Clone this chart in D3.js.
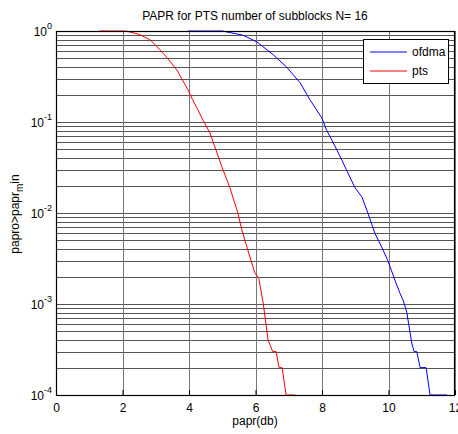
<!DOCTYPE html>
<html><head><meta charset="utf-8">
<script src="https://cdn.jsdelivr.net/npm/d3@7"></script>
<style>body{margin:0;background:#fff}text{font-family:"Liberation Sans",Arial,sans-serif;fill:#000}</style>
</head><body><svg id="c" width="458" height="434"></svg>
<script>
const title = "PAPR for PTS number of subblocks N= 16";
const xLabel = "papr(db)";
const seriesNames = ["ofdma", "pts"];
const seriesColors = ["#0000ff", "#ff0000"];
const xTicks = [0,2,4,6,8,10,12];
const yExps = [0,-1,-2,-3,-4];
const ofdmaX = [3.97,5.0,5.62,6.04,6.53,6.94,7.34,7.64,8.0,8.14,8.34,8.6,8.78,8.99,9.2,9.38,9.59,9.8,9.98,10.2,10.35,10.44,10.55,10.7,10.77,10.85,10.95,11.13,11.25,11.76];
const ofdmaY = [1,1,0.9,0.76,0.55,0.4,0.27,0.175,0.11,0.081,0.059,0.038,0.0275,0.019,0.015,0.01,0.006,0.0042,0.003,0.0018,0.0013,0.0011,0.00081,0.00037,0.0003,0.0003,0.0002,0.0002,0.0001,0.0001];
const ptsX = [1.3,2.1,2.5,2.83,3.13,3.4,3.64,3.97,4.1,4.25,4.42,4.63,4.99,5.23,5.47,5.59,5.77,5.98,6.1,6.23,6.38,6.52,6.62,6.71,6.8,6.92,7.19];
const ptsY = [1,1,0.92,0.8,0.62,0.48,0.37,0.225,0.178,0.14,0.105,0.076,0.032,0.019,0.01,0.0065,0.0039,0.0022,0.0019,0.00103,0.0004,0.0003,0.0003,0.0002,0.0002,0.0001,0.0001];

const L=56,R=455,T=31,B=395;
const svg=d3.select("#c");
const x=d3.scaleLinear().domain([0,12]).range([L,R]);
const y=d3.scaleLog().domain([1e-4,1]).range([B,T]);

// grid
const g=svg.append("g");
const minorVals=[];
for(let e=-4;e<0;e++){for(let k=1;k<10;k++){minorVals.push(k*Math.pow(10,e));}}
minorVals.push(1);
g.selectAll("line.h").data(minorVals).enter().append("line")
 .attr("x1",L).attr("x2",R).attr("y1",d=>Math.round(y(d))+0.5).attr("y2",d=>Math.round(y(d))+0.5)
 .attr("stroke","#555").attr("stroke-width",1);
g.selectAll("line.v").data(xTicks).enter().append("line")
 .attr("y1",T).attr("y2",B).attr("x1",d=>Math.round(x(d))+0.5).attr("x2",d=>Math.round(x(d))+0.5)
 .attr("stroke","#777").attr("stroke-width",1);

// axes via d3
const xAxis=svg.append("g").attr("transform",`translate(0,${B})`)
 .call(d3.axisBottom(x).tickValues(xTicks).tickSize(-5).tickPadding(8).tickFormat(d3.format("d")));
xAxis.select(".domain").remove();
xAxis.selectAll("text").attr("font-size",12).attr("font-family","Liberation Sans, Arial, sans-serif");
xAxis.selectAll("line").attr("stroke","#000");

// lines
const line=d3.line().x(d=>x(d[0])).y(d=>y(d[1]));
const series=[d3.zip(ofdmaX,ofdmaY), d3.zip(ptsX,ptsY)];
series.forEach((s,i)=>{
 svg.append("path").attr("d",line(s)).attr("fill","none").attr("stroke",seriesColors[i]).attr("stroke-width",1);
});

// box
svg.append("rect").attr("x",L+0.5).attr("y",T+0.5).attr("width",R-L-1).attr("height",B-T).attr("fill","none").attr("stroke","#000").attr("stroke-width",1.2);

// y tick labels
yExps.forEach(e=>{
 const t=svg.append("text").attr("x",52).attr("y",y(Math.pow(10,e))+5).attr("text-anchor","end").attr("font-size",12);
 t.append("tspan").text("10");
 t.append("tspan").attr("dy",-7).attr("font-size",9).text(String(e));
});

// title & labels
svg.append("text").attr("x",255).attr("y",20).attr("text-anchor","middle").attr("font-size",12).text(title);
svg.append("text").attr("x",255).attr("y",425).attr("text-anchor","middle").attr("font-size",12).text(xLabel);
const yl=svg.append("text").attr("transform","translate(19,214) rotate(-90)").attr("text-anchor","middle").attr("font-size",12);
yl.append("tspan").text("papro>papr");
yl.append("tspan").attr("dy",4).attr("font-size",10).text("m");
yl.append("tspan").attr("dy",-4).text("in");

// legend
const lg=svg.append("g");
lg.append("rect").attr("x",363.5).attr("y",39.5).attr("width",85).attr("height",44).attr("fill","#fff").attr("stroke","#000");
seriesNames.forEach((n,i)=>{
 const yy=52+i*19;
 lg.append("line").attr("x1",370).attr("x2",407).attr("y1",yy).attr("y2",yy).attr("stroke",seriesColors[i]);
 lg.append("text").attr("x",412).attr("y",yy+4).attr("font-size",12).text(n);
});
</script></body></html>
